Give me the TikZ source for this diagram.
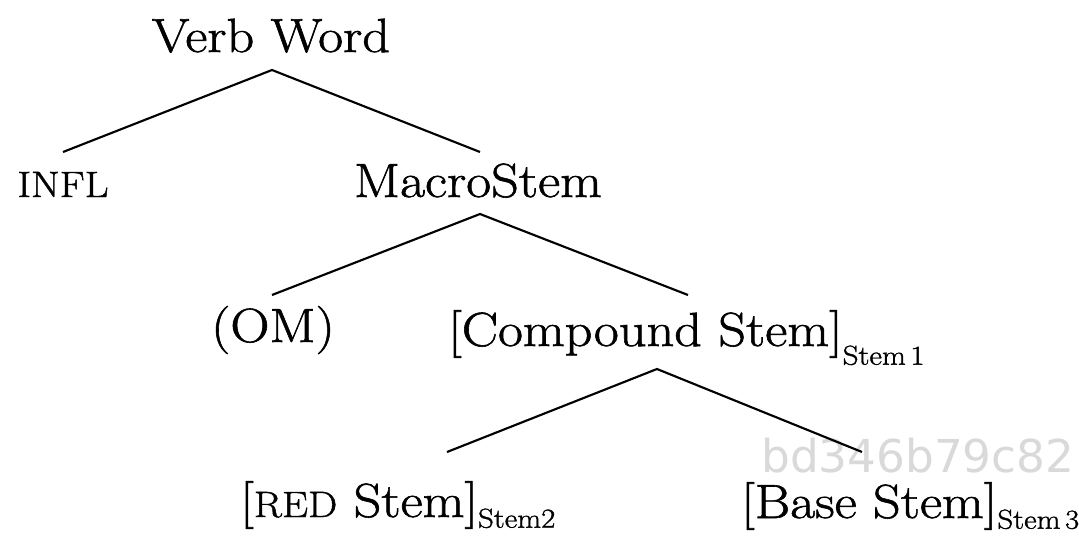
\documentclass[tikz,border=0pt]{standalone}
\usepackage{fontspec}
\setmainfont{Latin Modern Roman}[FakeStretch=1.13,FakeBold=1.2]
\newfontfamily\wmfont{DejaVu Sans}
\newcommand{\stemsub}[2][8pt]{\raisebox{-#1}{\fontsize{20.5}{23}\selectfont #2}}
\newcommand{\smc}[1]{{\fontsize{27.5}{30}\selectfont #1}}

\begin{document}
\begin{tikzpicture}[x=0.75pt,y=0.75pt,yscale=-1,xscale=1,
    lbl/.style={inner sep=0pt,font=\fontsize{36}{40}\selectfont},
    branch/.style={line width=1.6pt}]
        \useasboundingbox (0,0) rectangle (1079,536);

        % Watermark
        \node (wm) [anchor=base west,inner sep=0pt,text=black!15,font=\wmfont\fontsize{34}{38}\selectfont] at (761,472) {bd346b79c82};

        % Text Node
        \node (vw) [lbl,anchor=base] at (271,52) {Verb Word};
        % Text Node
        \node (infl) [lbl,anchor=base] at (63,197) {\smc{INFL}};
        % Text Node
        \node (ms) [lbl,anchor=base] at (478,197) {MacroStem};
        % Text Node
        \node (om) [lbl,anchor=base] at (273,342) {(OM)};
        % Text Node
        \node (cs) [lbl,anchor=base west] at (448,346) {[Compound Stem]\stemsub[14pt]{Stem\,1}};
        % Text Node
        \node (red) [lbl,anchor=base west] at (240,517) {[\smc{RED} Stem]\stemsub{Stem2}};
        % Text Node
        \node (base) [lbl,anchor=base west] at (741,518) {[Base Stem]\stemsub{Stem\,3}};

        % Branch tips
        \coordinate (vw-t) at (272,70);
        \coordinate (infl-t) at (63,152);
        \coordinate (ms-b) at (480,152);
        \coordinate (ms-t) at (480,214);
        \coordinate (om-t) at (272,295);
        \coordinate (cs-b) at (688,295);
        \coordinate (cs-t) at (657,369);
        \coordinate (red-t) at (447,452);
        \coordinate (base-t) at (862,452);

        %Straight Lines
        \draw [branch] (infl-t) -- (vw-t) -- (ms-b);
        \draw [branch] (om-t) -- (ms-t) -- (cs-b);
        \draw [branch] (red-t) -- (cs-t) -- (base-t);

\end{tikzpicture}
\end{document}
